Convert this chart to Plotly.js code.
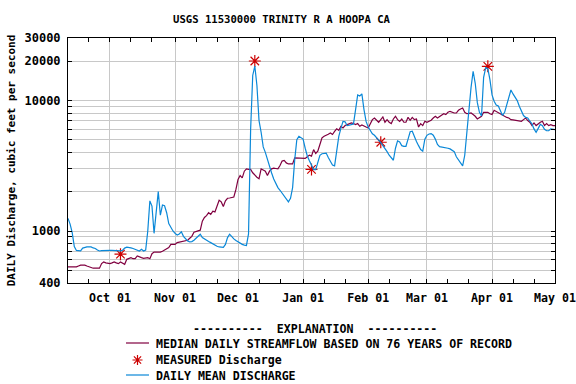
<!DOCTYPE html>
<html><head><meta charset="utf-8">
<script src="https://cdn.plot.ly/plotly-3.0.1.min.js"></script>
<style>html,body{margin:0;padding:0;background:#fff}#chart{width:576px;height:384px}</style>
</head><body><div id="chart"></div><script>
// First day of the record shown (daily values follow, one per day)
const startDate = '2014-09-11';

const dailyMean = [
 1250,1130,970,760,710,703,705,740,752,755,
 755,755,742,735,715,703,707,710,710,712,
 712,712,710,705,703,705,712,740,752,750,
 742,735,725,712,703,725,703,715,1000,1700,
 1550,960,1500,2000,1320,1580,1560,1380,1140,1060,
 1000,960,930,950,985,910,870,840,825,830,
 850,880,910,945,890,865,850,830,815,795,
 780,765,755,750,750,790,890,945,900,870,
 845,825,805,790,780,775,950,6000,15500,18300,
 13000,7000,5700,4400,4000,3500,3100,2780,2500,2300,
 2150,2050,1950,1830,1750,1670,1780,2150,3500,5000,
 5300,5200,5050,4300,3750,3450,3150,2950,2950,3350,
 3800,3900,3920,3950,3650,3380,3200,3150,4000,5300,
 6100,6900,6850,6400,6450,6520,6600,8500,11000,10800,
 11200,8500,6900,6250,5850,5550,5400,5200,5000,4750,
 4500,4300,4050,3800,3630,3480,4300,4900,4800,4500,
 4450,4450,5050,5750,5800,5200,4850,4500,4200,4080,
 5050,5400,5530,5570,5410,5050,4600,4420,4400,4370,
 4350,4300,4250,4150,4050,3700,3500,3350,3150,3800,
 5800,9000,12500,16700,13500,9600,8100,7600,15000,17800,
 17500,14400,11000,9850,9200,9050,8300,7650,8100,9300,
 10800,12000,11200,10600,9950,9000,8200,7650,7400,7330,
 6950,6600,6050,5700,6100,6550,6400,6000,5850,5850,
 6050,5970,5970
];

const medianFlow = [
 531,531,531,531,531,540,548,548,548,540,
 531,525,519,519,519,519,563,580,570,566,
 563,570,580,570,563,580,565,556,607,615,
 625,614,614,644,630,625,617,620,625,614,
 670,690,690,690,690,700,712,730,746,790,
 790,790,815,820,825,835,840,850,880,910,
 980,990,1000,1015,1190,1270,1310,1380,1340,1420,
 1400,1540,1720,1670,1540,1700,1780,1790,1800,1820,
 2080,2480,2660,2550,2870,2990,2960,2960,2790,2660,
 2580,2510,2990,2930,2870,2660,2870,2990,3030,3010,
 2990,3170,3430,3470,3320,3260,3260,3260,3630,3630,
 3630,3630,3630,3590,3700,3810,3740,4200,3920,4080,
 4590,5160,5310,5370,5500,5630,5480,5790,6050,5900,
 6330,6150,6410,6520,6600,6710,6640,6520,6640,6330,
 6480,6400,6250,6150,6640,7120,7330,7000,6800,7120,
 7460,6800,7120,6800,6640,7200,7550,7120,6910,7200,
 6800,6800,7410,7040,7410,7120,7200,6250,6640,6410,
 6910,6800,6900,7040,7330,7550,7330,7500,7680,7910,
 7780,8100,8240,8100,8000,8000,8390,8590,8730,8100,
 7910,7950,8000,7780,7550,7200,7400,7550,8100,8100,
 8100,7900,7780,8390,8200,8100,7910,7700,7550,7400,
 7330,7120,7080,7040,7000,6950,6910,7120,7330,7000,
 6800,6410,6710,6410,6640,6800,6910,6410,6640,6410,
 6520,6410,6410
];

const measuredDates = ['2014-10-06','2014-12-09','2015-01-05','2015-02-07','2015-03-30'];
const measuredValues = [665, 20000, 2960, 4780, 18200];

const monthTickDates = ['2014-10-01','2014-11-01','2014-12-01','2015-01-01','2015-02-01','2015-03-01','2015-04-01','2015-05-01'];
const monthTickLabels = ['Oct 01','Nov 01','Dec 01','Jan 01','Feb 01','Mar 01','Apr 01','May 01'];
const minorTickDates = ['2014-09-21','2014-10-11','2014-10-21','2014-11-11','2014-11-21','2014-12-11','2014-12-21',
  '2015-01-11','2015-01-21','2015-02-11','2015-02-21','2015-03-11','2015-03-21','2015-04-11','2015-04-21'];

const yTickValues = [400,500,600,700,800,900,1000,2000,3000,4000,5000,6000,7000,8000,9000,10000,20000,30000];
const yTickLabels = ['400','','','','','','1000','','','','','','','','','10000','20000','30000'];

const titleText = 'USGS 11530000 TRINITY R A HOOPA CA';
const yTitleText = 'DAILY Discharge, cubic feet per second';
const legendHeader = '----------  EXPLANATION  ----------';
const seriesNames = ['MEDIAN DAILY STREAMFLOW BASED ON 76 YEARS OF RECORD', 'MEASURED Discharge', 'DAILY MEAN DISCHARGE'];
const seriesColors = ['#800040', '#cc0000', '#0a88d8'];

function buildDates(start, n) {
  const p = start.split('-').map(Number);
  const out = [];
  for (let i = 0; i < n; i++) {
    out.push(new Date(Date.UTC(p[0], p[1] - 1, p[2] + i)).toISOString().slice(0, 10));
  }
  return out;
}
const dates = buildDates(startDate, dailyMean.length);

const FONT = 'DejaVu Sans Mono, Liberation Mono, monospace';
const f = (size) => ({family: FONT, size: size, color: '#000', weight: 700});

const traces = [
  {type: 'scatter', mode: 'lines', name: seriesNames[0], x: dates, y: medianFlow,
   line: {color: seriesColors[0], width: 1.2}},
  {type: 'scatter', mode: 'markers', name: seriesNames[1], x: measuredDates, y: measuredValues,
   marker: {symbol: 'asterisk-open', size: 10, color: seriesColors[1], line: {color: seriesColors[1], width: 1.2}}},
  {type: 'scatter', mode: 'lines', name: seriesNames[2], x: dates, y: dailyMean,
   line: {color: seriesColors[2], width: 1.2}}
];

// legend geometry (plot area: 68..555 x, 38..283 y)
const PL = 68, PW = 487, PB = 283, PH = 245;
const px = (x) => (x - PL) / PW;
const py = (y) => (PB - y) / PH;
const rowY = [344, 360, 376];

const shapes = [
  {type: 'line', xref: 'paper', yref: 'paper', x0: px(126), x1: px(149), y0: py(rowY[0] - 1), y1: py(rowY[0] - 1),
   line: {color: seriesColors[0], width: 1.2}},
  {type: 'path', xref: 'paper', yref: 'paper', xsizemode: 'pixel', ysizemode: 'pixel',
   xanchor: px(137.5), yanchor: py(rowY[1]),
   path: 'M-5,0L5,0M0,-5L0,5M-3.6,-3.6L3.6,3.6M-3.6,3.6L3.6,-3.6',
   line: {color: seriesColors[1], width: 1.2}},
  {type: 'line', xref: 'paper', yref: 'paper', x0: px(126), x1: px(149), y0: py(rowY[2] - 1), y1: py(rowY[2] - 1),
   line: {color: seriesColors[2], width: 1.2}}
];

const annotations = [
  {text: legendHeader, xref: 'paper', yref: 'paper', x: px(315), y: py(329),
   xanchor: 'center', yanchor: 'middle', showarrow: false, font: f(11.6)}
].concat(seriesNames.map((name, i) => ({
  text: name, xref: 'paper', yref: 'paper', x: px(154), y: py(rowY[i]),
  xanchor: 'left', yanchor: 'middle', showarrow: false, font: f(11.6)
})));

const layout = {
  width: 576, height: 384,
  margin: {l: 68, r: 21, t: 38, b: 101, pad: 0, autoexpand: false},
  paper_bgcolor: '#fff', plot_bgcolor: '#fff',
  showlegend: false,
  title: {text: titleText, font: f(10.6), x: 281.5 / 576, xref: 'container', xanchor: 'center',
          y: 1 - 19 / 384, yref: 'container', yanchor: 'middle'},
  xaxis: {
    type: 'date', range: ['2014-09-11', '2015-05-01'],
    tickmode: 'array', tickvals: monthTickDates, ticktext: monthTickLabels,
    ticks: 'inside', ticklen: 4, tickcolor: '#000', tickwidth: 1,
    showgrid: true, gridcolor: '#c8c8c8', gridwidth: 1,
    showline: true, linecolor: '#000', linewidth: 1, mirror: 'ticks',
    tickfont: f(11.6), zeroline: false, ticklabelstandoff: 4,
    minor: {tickmode: 'array', tickvals: minorTickDates, ticks: 'inside', ticklen: 4, tickcolor: '#000', showgrid: false}
  },
  yaxis: {
    type: 'log', range: [Math.log10(400), Math.log10(30000)],
    tickmode: 'array', tickvals: yTickValues, ticktext: yTickLabels,
    ticks: 'inside', ticklen: 4, tickcolor: '#000', tickwidth: 1,
    showgrid: true, gridcolor: '#c8c8c8', gridwidth: 1,
    showline: true, linecolor: '#000', linewidth: 1, mirror: 'ticks',
    tickfont: f(12), zeroline: false, ticklabelstandoff: 4,
    title: {text: yTitleText, font: f(11), standoff: 6}
  },
  shapes: shapes,
  annotations: annotations
};

Plotly.newPlot('chart', traces, layout, {displayModeBar: false, staticPlot: true});
</script></body></html>
